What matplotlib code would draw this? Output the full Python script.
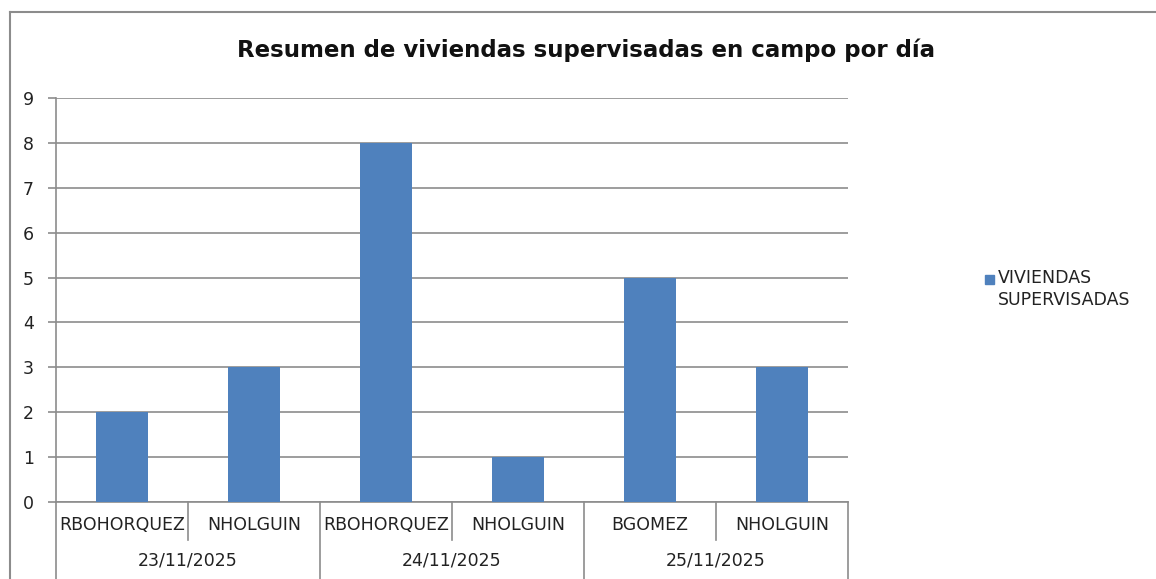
import matplotlib
matplotlib.use('Agg')
import matplotlib.pyplot as plt
from matplotlib.lines import Line2D
from matplotlib.patches import Rectangle
import numpy as np

# data
names = ['RBOHORQUEZ', 'NHOLGUIN', 'RBOHORQUEZ', 'NHOLGUIN', 'BGOMEZ', 'NHOLGUIN']
dates = ['23/11/2025', '24/11/2025', '25/11/2025']
per_date = [2, 2, 2]
values = [2, 3, 8, 1, 5, 3]
series_name = 'VIVIENDAS\nSUPERVISADAS'
title = 'Resumen de viviendas supervisadas en campo por día'

plt.rcParams['font.family'] = ['DejaVu Sans']
W, H = 1156, 579
fig = plt.figure(figsize=(W/100, H/100), dpi=100)
grey = '#8c8c8c'
bar_color = '#4F81BD'
txt = '#222222'
fs = 12.5

ax = fig.add_axes([56/W, 1-502/H, 792/W, 404/H])
x = np.arange(len(values))
ax.bar(x, values, width=0.4, color=bar_color, zorder=3, label=series_name)
ax.set_xlim(-0.5, len(values)-0.5)
ax.set_ylim(0, 9)
ax.set_yticks(range(0, 10))
ax.yaxis.grid(True, color=grey, lw=1.2, zorder=0)
ax.tick_params(axis='y', length=6, width=1.2, color=grey, labelsize=fs, pad=10, labelcolor=txt)
ax.tick_params(axis='x', length=0, labelbottom=False)
for s in ['top', 'right']:
    ax.spines[s].set_visible(False)
for s in ['left', 'bottom']:
    ax.spines[s].set_color(grey)
    ax.spines[s].set_linewidth(1.2)

# two level category axis
for i, n in enumerate(names):
    ax.text(i, -0.057, n, transform=ax.get_xaxis_transform(), ha='center', va='center',
            fontsize=fs, color=txt)
start = 0
bounds = [-0.5]
for d, k in zip(dates, per_date):
    ax.text(start + (k-1)/2, -0.146, d, transform=ax.get_xaxis_transform(), ha='center',
            va='center', fontsize=fs, color=txt)
    start += k
    bounds.append(start - 0.5)
for b in np.arange(-0.5, len(values), 1.0):
    y0 = -0.2 if b in bounds else -0.095
    ax.plot([b, b], [0, y0], transform=ax.get_xaxis_transform(), color=grey, lw=1.2,
            clip_on=False)

fig.text(586/W, 1-50/H, title, ha='center', va='center', fontsize=16.5, fontweight='bold',
         color='#111111')

# legend drawn by hand so the marker sits on the first line
fig.add_artist(Rectangle((985/W, 1-284/H), 9/W, 9/H, color=bar_color, transform=fig.transFigure))
fig.text(998/W, 1-269/H, series_name, ha='left', va='top', fontsize=fs, color=txt,
         linespacing=1.3, transform=fig.transFigure)

# chart area frame
fig.add_artist(Line2D([10/W, 10/W], [0, 1-12/H], color=grey, lw=1.5, transform=fig.transFigure))
fig.add_artist(Line2D([10/W, 1], [1-12/H, 1-12/H], color=grey, lw=1.5, transform=fig.transFigure))

fig.savefig('out.png', dpi=100)
